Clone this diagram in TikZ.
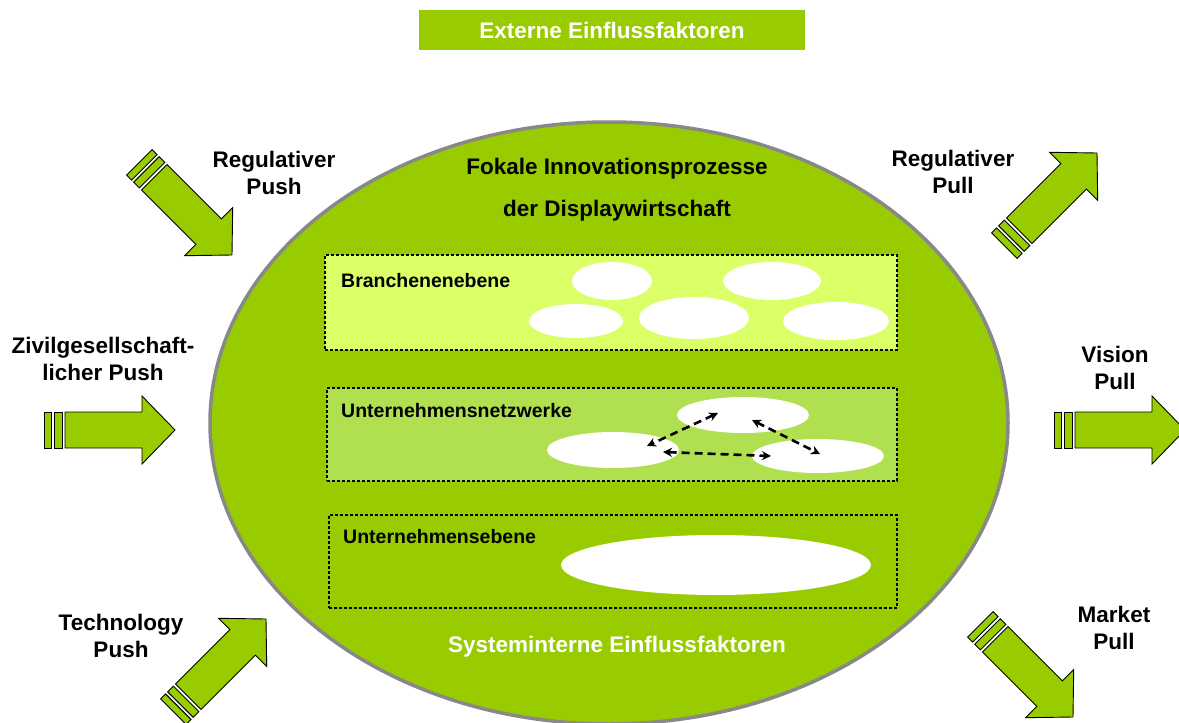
\documentclass[tikz,border=0pt]{standalone}
\usepackage{fontspec}
\setmainfont{Liberation Sans}
\usetikzlibrary{shapes.geometric, arrows.meta, positioning}
\definecolor{leafgreen}{HTML}{99CC00}
\definecolor{palegreen}{HTML}{DBFF66}
\definecolor{midgreen}{HTML}{B0E050}
\definecolor{rimgray}{HTML}{888888}
\tikzstyle{factor} = [font=\fontsize{22.5}{27}\selectfont\bfseries, align=center, text=black]
\tikzstyle{layer} = [rectangle, draw, densely dashed, line width=1.2pt, inner sep=0pt]
\tikzstyle{layertext} = [font=\fontsize{19.5}{23}\selectfont\bfseries, anchor=west, inner sep=0pt]
\tikzstyle{blob} = [ellipse, fill=white, inner sep=0pt]
\tikzstyle{link} = [line width=2.6pt, dash pattern=on 8pt off 5pt, {Stealth[length=9pt,width=9pt]}-{Stealth[length=9pt,width=9pt]}]
\tikzstyle{arrowfill} = [fill=leafgreen, draw=black, line width=0.9pt, line join=miter]
\tikzset{pusharrow/.pic={
    \draw [arrowfill] (0,0) -- (-33,34) -- (-33,18) -- (-110,18) -- (-110,-18) -- (-33,-18) -- (-33,-34) -- cycle;
    \draw [arrowfill] (-113,18) rectangle (-121,-18);
    \draw [arrowfill] (-124,18) rectangle (-131,-18);
}}

\begin{document}
\begin{tikzpicture}[x=1pt, y=-1pt]
    \useasboundingbox (0,0) rectangle (1179,723);

    % Header
    \node (extern) [fill=leafgreen, minimum width=386pt, minimum height=40pt, inner sep=0pt,
        text=white, font=\fontsize{22.5}{27}\selectfont\bfseries] at (612,30) {Externe Einflussfaktoren};

    % System
    \node (system) [ellipse, fill=leafgreen, draw=rimgray, line width=3.5pt, inner sep=0pt,
        minimum width=798pt, minimum height=602pt] at (609,423) {};
    \node (focal) [factor, font=\fontsize{22.5}{42}\selectfont\bfseries] at (617,190) {Fokale Innovationsprozesse\\der Displaywirtschaft};
    \node (intern) [factor, text=white] at (617,647) {Systeminterne Einflussfaktoren};

    % Layers
    \node (branche) [layer, fill=palegreen, minimum width=572pt, minimum height=95pt] at (611,302.5) {};
    \node (netz) [layer, fill=midgreen, minimum width=570pt, minimum height=93pt] at (612,434.5) {};
    \node (firma) [layer, minimum width=568pt, minimum height=93pt] at (613,561.5) {};

    \node (branche_text) [layertext] at (341,281) {Branchenenebene};
    \node (netz_text) [layertext] at (341,411) {Unternehmensnetzwerke};
    \node (firma_text) [layertext] at (343,537) {Unternehmensebene};

    % Branchenebene
    \node (b1) [blob, minimum width=80pt, minimum height=38pt] at (612,281) {};
    \node (b2) [blob, minimum width=98pt, minimum height=38pt] at (772,281) {};
    \node (b3) [blob, minimum width=94pt, minimum height=34pt] at (576,321) {};
    \node (b4) [blob, minimum width=110pt, minimum height=42pt] at (694,318) {};
    \node (b5) [blob, minimum width=106pt, minimum height=38pt] at (836,321) {};

    % Netzwerke
    \node (n1) [blob, minimum width=132pt, minimum height=36pt] at (743,415) {};
    \node (n2) [blob, minimum width=132pt, minimum height=36pt] at (613,450) {};
    \node (n3) [blob, minimum width=132pt, minimum height=34pt] at (818,456) {};

    % Unternehmen
    \node (f1) [blob, minimum width=310pt, minimum height=60pt] at (716,565) {};

    % ==== Links
    \coordinate (n1a) at (718,413);
    \coordinate (n1b) at (752,420);
    \coordinate (n2a) at (647,446);
    \coordinate (n2b) at (663,452);
    \coordinate (n3a) at (820,454);
    \coordinate (n3b) at (771,456);
    \draw [link] (n1a) -- (n2a);
    \draw [link] (n1b) -- (n3a);
    \draw [link] (n2b) -- (n3b);

    % ==== Push
    \pic [rotate=-45] at (232,255) {pusharrow};
    \pic at (175,430) {pusharrow};
    \pic [rotate=45] at (266,619) {pusharrow};
    \node (regpush) [factor] at (274,173) {Regulativer\\Push};
    \node (zivpush) [factor] at (103,359) {Zivilgesellschaft-\\licher Push};
    \node (techpush) [factor] at (121,636) {Technology\\Push};

    % ==== Pull
    \pic [rotate=45] at (1097,153) {pusharrow};
    \pic at (1185,430) {pusharrow};
    \pic [rotate=-45] at (1073,717) {pusharrow};
    \node (regpull) [factor] at (953,172) {Regulativer\\Pull};
    \node (vispull) [factor] at (1115,368) {Vision\\Pull};
    \node (mktpull) [factor] at (1114,628) {Market\\Pull};

\end{tikzpicture}
\end{document}
